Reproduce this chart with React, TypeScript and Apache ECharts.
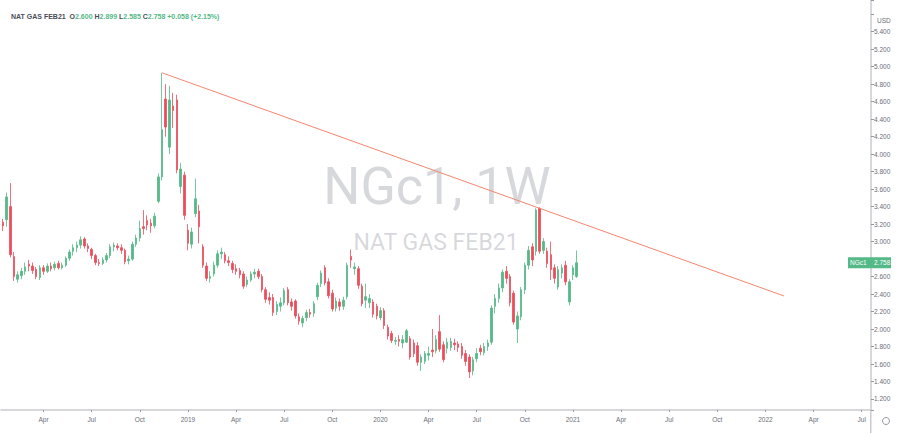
import React, { useEffect, useRef } from "react";
import * as echarts from "echarts";

// ---- categories: weekly bars (Monday dates) ----
const FIRST_WEEK = "2018-01-15";
const WEEK_COUNT = 235;
const weeks: string[] = [];
for (let i = 0; i < WEEK_COUNT; i++) {
  const d = new Date(Date.parse(FIRST_WEEK) + i * 7 * 86400000);
  weeks.push(d.toISOString().slice(0, 10));
}
const MONTHS = ["Jan", "Feb", "Mar", "Apr", "May", "Jun", "Jul", "Aug", "Sep", "Oct", "Nov", "Dec"];

// ---- weekly OHLC of NGc1 ----
const opens = [
  3.22, 3.25, 3.40, 2.83, 2.57, 2.61, 2.66, 2.74, 2.72, 2.68,
  2.59, 2.70, 2.66, 2.72, 2.70, 2.75, 2.70, 2.73, 2.81, 2.89,
  2.93, 2.96, 3.03, 2.95, 2.91, 2.84, 2.76, 2.75, 2.79, 2.84,
  2.94, 2.95, 2.93, 2.90, 2.78, 2.80, 2.97, 3.04, 3.17, 3.24,
  3.21, 3.18, 3.46, 3.74, 4.63, 4.08, 4.55, 4.62, 3.63, 3.76,
  3.13, 2.97, 3.32, 3.35, 2.94, 2.72, 2.58, 2.63, 2.73, 2.86,
  2.85, 2.78, 2.75, 2.69, 2.67, 2.63, 2.51, 2.56, 2.63, 2.66,
  2.60, 2.45, 2.36, 2.36, 2.20, 2.26, 2.30, 2.45, 2.31, 2.32,
  2.14, 2.07, 2.13, 2.19, 2.18, 2.37, 2.52, 2.70, 2.54, 2.41,
  2.24, 2.31, 2.26, 2.37, 2.83, 2.69, 2.69, 2.49, 2.33, 2.30,
  2.31, 2.26, 2.13, 2.21, 2.02, 1.95, 1.86, 1.88, 1.84, 1.85,
  1.89, 1.84, 1.81, 1.62, 1.63, 1.70, 1.76, 1.75, 1.97, 1.82,
  1.78, 1.79, 1.84, 1.83, 1.80, 1.72, 1.68, 1.52, 1.66, 1.78,
  1.73, 1.80, 1.85, 2.26, 2.35, 2.47, 2.66, 2.60, 2.41, 2.00,
  2.14, 2.45, 2.73, 2.94, 2.89, 3.38, 2.90, 2.89, 2.85, 2.70,
  2.48, 2.64, 2.73, 2.31, 2.62, 2.600,
];
const closes = [
  3.18, 3.51, 2.85, 2.60, 2.62, 2.66, 2.71, 2.72, 2.67, 2.60,
  2.70, 2.66, 2.72, 2.69, 2.74, 2.70, 2.73, 2.81, 2.88, 2.93,
  2.96, 3.02, 2.95, 2.92, 2.84, 2.76, 2.75, 2.79, 2.84, 2.94,
  2.96, 2.93, 2.90, 2.77, 2.80, 2.97, 3.04, 3.15, 3.15, 3.19,
  3.18, 3.29, 3.74, 4.28, 4.31, 4.62, 4.50, 3.82, 3.83, 3.30,
  2.98, 3.11, 3.49, 3.17, 2.73, 2.58, 2.60, 2.73, 2.86, 2.88,
  2.78, 2.76, 2.68, 2.66, 2.62, 2.49, 2.56, 2.63, 2.65, 2.60,
  2.45, 2.34, 2.33, 2.19, 2.28, 2.30, 2.44, 2.30, 2.26, 2.15,
  2.09, 2.12, 2.19, 2.17, 2.29, 2.50, 2.64, 2.53, 2.38, 2.23,
  2.32, 2.26, 2.33, 2.73, 2.79, 2.71, 2.50, 2.29, 2.37, 2.35,
  2.17, 2.15, 2.21, 2.04, 1.92, 1.87, 1.87, 1.86, 1.88, 1.98,
  1.68, 1.72, 1.62, 1.68, 1.72, 1.72, 1.74, 1.88, 1.77, 1.65,
  1.85, 1.86, 1.82, 1.79, 1.70, 1.63, 1.51, 1.65, 1.72, 1.74,
  1.80, 1.84, 2.24, 2.35, 2.47, 2.65, 2.58, 2.30, 2.08, 2.15,
  2.45, 2.73, 2.90, 2.79, 3.36, 2.89, 3.00, 2.75, 2.68, 2.58,
  2.68, 2.70, 2.54, 2.54, 2.70, 2.758,
];
const lows = [
  3.12, 3.17, 2.82, 2.55, 2.53, 2.57, 2.62, 2.66, 2.63, 2.57,
  2.56, 2.62, 2.64, 2.66, 2.67, 2.68, 2.68, 2.71, 2.78, 2.84,
  2.88, 2.92, 2.92, 2.88, 2.80, 2.73, 2.72, 2.73, 2.76, 2.81,
  2.89, 2.90, 2.86, 2.74, 2.74, 2.78, 2.94, 3.00, 3.08, 3.13,
  3.10, 3.15, 3.44, 3.70, 4.20, 4.00, 4.30, 3.78, 3.55, 3.25,
  2.90, 2.92, 3.28, 2.98, 2.70, 2.55, 2.53, 2.60, 2.70, 2.80,
  2.75, 2.72, 2.64, 2.62, 2.58, 2.46, 2.48, 2.54, 2.58, 2.57,
  2.42, 2.30, 2.28, 2.15, 2.16, 2.20, 2.27, 2.27, 2.21, 2.12,
  2.05, 2.02, 2.09, 2.13, 2.14, 2.33, 2.48, 2.50, 2.35, 2.20,
  2.20, 2.21, 2.22, 2.34, 2.70, 2.62, 2.46, 2.26, 2.24, 2.24,
  2.13, 2.11, 2.10, 2.00, 1.88, 1.84, 1.82, 1.80, 1.78, 1.84,
  1.65, 1.68, 1.58, 1.52, 1.60, 1.64, 1.68, 1.72, 1.74, 1.62,
  1.72, 1.75, 1.76, 1.74, 1.66, 1.58, 1.44, 1.47, 1.62, 1.70,
  1.70, 1.75, 1.82, 2.18, 2.30, 2.42, 2.52, 2.26, 2.05, 1.84,
  2.10, 2.40, 2.68, 2.72, 2.84, 2.86, 2.86, 2.70, 2.56, 2.52,
  2.45, 2.58, 2.50, 2.27, 2.56, 2.585,
];
const highs = [
  3.26, 3.56, 3.67, 2.88, 2.66, 2.70, 2.76, 2.79, 2.76, 2.71,
  2.73, 2.73, 2.75, 2.76, 2.77, 2.78, 2.76, 2.83, 2.91, 2.97,
  3.00, 3.06, 3.05, 2.98, 2.93, 2.86, 2.80, 2.82, 2.87, 2.97,
  2.99, 2.98, 2.97, 2.92, 2.84, 3.00, 3.08, 3.24, 3.36, 3.30,
  3.26, 3.33, 3.78, 4.93, 4.80, 4.78, 4.70, 4.68, 3.90, 3.80,
  3.20, 3.16, 3.72, 3.42, 2.97, 2.76, 2.66, 2.77, 2.90, 2.93,
  2.88, 2.83, 2.78, 2.74, 2.70, 2.66, 2.60, 2.66, 2.69, 2.69,
  2.63, 2.48, 2.42, 2.40, 2.32, 2.36, 2.47, 2.48, 2.35, 2.34,
  2.18, 2.15, 2.22, 2.23, 2.32, 2.53, 2.67, 2.73, 2.58, 2.45,
  2.36, 2.35, 2.37, 2.76, 2.91, 2.76, 2.72, 2.52, 2.52, 2.40,
  2.34, 2.29, 2.25, 2.24, 2.05, 1.98, 1.91, 1.93, 1.93, 2.00,
  1.92, 1.88, 1.85, 1.71, 1.75, 1.80, 2.00, 1.93, 2.16, 1.86,
  1.90, 1.90, 1.89, 1.86, 1.84, 1.76, 1.71, 1.68, 1.78, 1.82,
  1.84, 1.88, 2.27, 2.40, 2.52, 2.68, 2.72, 2.63, 2.44, 2.20,
  2.48, 2.76, 2.95, 2.98, 3.38, 3.39, 3.04, 2.93, 3.00, 2.74,
  2.72, 2.74, 2.78, 2.57, 2.73, 2.899,
];

// ---- trend line drawn on the chart ----
const trendWeeks = ["2018-11-12", "2022-01-31"];
const trendValues = [4.93, 2.378];

const SYMBOL = "NGc1";
const INTERVAL = "1W";
const NAME = "NAT GAS FEB21";
const CURRENCY = "USD";

const UP = "#53b987";
const DOWN = "#eb4d5c";
const FONT = "'Liberation Sans', Arial, sans-serif";

function quarterLabel(cat: string): string {
  const m = Date.parse(cat);
  for (let k = -1; k <= 5; k++) {
    const d = new Date(m + k * 86400000);
    if (d.getUTCDate() === 1 && d.getUTCMonth() % 3 === 0) {
      return d.getUTCMonth() === 0 ? String(d.getUTCFullYear()) : MONTHS[d.getUTCMonth()];
    }
  }
  return "";
}

export default function App() {
  const ref = useRef<HTMLDivElement>(null);
  useEffect(() => {
    const el = ref.current!;
    const chart = echarts.init(el, undefined, { renderer: "svg" });
    const candleData = opens.map((o, i) => [o, closes[i], lows[i], highs[i]]);
    const last = opens.length - 1;
    const lastClose = closes[last];
    const chg = closes[last] - closes[last - 1];
    const pct = (chg / closes[last - 1]) * 100;
    const sign = chg >= 0 ? "+" : "-";

    chart.setOption({
      animation: false,
      backgroundColor: "#ffffff",
      title: {
        left: 6,
        top: 8,
        text:
          `{n|${NAME}}  {k|O}{v|${opens[last].toFixed(3)}} {k|H}{v|${highs[last].toFixed(3)}} ` +
          `{k|L}{v|${lows[last].toFixed(3)}} {k|C}{v|${closes[last].toFixed(3)}} ` +
          `{v|${sign}${Math.abs(chg).toFixed(3)} (${sign}${Math.abs(pct).toFixed(2)}%)}`,
        textStyle: {
          fontSize: 7,
          fontFamily: FONT,
          rich: {
            n: { fontSize: 7, color: "#4a4d57", fontFamily: FONT },
            k: { fontSize: 7, color: "#4a4d57", fontFamily: FONT },
            v: { fontSize: 7, color: UP, fontFamily: FONT },
          },
        },
      },
      grid: { left: 1, right: 31, top: 0, bottom: 23, containLabel: false },
      xAxis: {
        type: "category",
        data: weeks,
        boundaryGap: true,
        axisLine: { show: true, lineStyle: { color: "#c9cbd1", width: 1.5 } },
        axisTick: {
          show: true,
          alignWithLabel: true,
          length: 2,
          interval: (idx: number, v: string) => quarterLabel(v) !== "",
          lineStyle: { color: "#9598a1" },
        },
        axisLabel: {
          interval: (idx: number, v: string) => quarterLabel(v) !== "",
          formatter: (v: string) => quarterLabel(v),
          fontSize: 6.5,
          color: "#6a6d78",
          fontFamily: FONT,
          margin: 6,
        },
        splitLine: { show: false },
      },
      yAxis: {
        type: "value",
        position: "right",
        min: 1.0742,
        max: 5.7626,
        splitNumber: 23,
        minInterval: 0.2,
        maxInterval: 0.2,
        scale: true,
        axisLine: { show: true, lineStyle: { color: "#c9cbd1", width: 1.5 } },
        axisTick: { show: true, length: 3, lineStyle: { color: "#9598a1" } },
        axisLabel: {
          fontSize: 6.5,
          color: "#6a6d78",
          fontFamily: FONT,
          margin: 3,
          // labels under the last-price box are covered in the reference
          formatter: (v: number) =>
            v > 5.5 || v < 1.15 || Math.abs(v - lastClose) < 0.1 ? "" : v.toFixed(3),
        },
        splitLine: { show: false },
      },
      series: [
        {
          type: "candlestick",
          data: candleData,
          barWidth: 2,
          itemStyle: {
            color: UP,
            color0: DOWN,
            borderColor: UP,
            borderColor0: DOWN,
            borderWidth: 0.8,
          },
          z: 3,
        },
        {
          type: "line",
          data: trendWeeks.map((w, i) => [w, trendValues[i]]),
          showSymbol: false,
          symbol: "none",
          silent: true,
          lineStyle: { color: "#f5866f", width: 1 },
          z: 4,
        },
      ],
    });

    const yLast = chart.convertToPixel({ yAxisIndex: 0 }, lastClose) as number;
    chart.setOption({
      graphic: [
        {
          type: "text",
          x: 437,
          y: 186,
          z: -10,
          silent: true,
          style: {
            text: `${SYMBOL}, ${INTERVAL}`,
            fill: "rgba(149,152,161,0.38)",
            font: "52px Roboto, sans-serif",
            textAlign: "center",
            textVerticalAlign: "middle",
          },
        },
        {
          type: "text",
          x: 436,
          y: 242,
          z: -10,
          silent: true,
          style: {
            text: NAME,
            fill: "rgba(149,152,161,0.38)",
            font: "23px Roboto, sans-serif",
            textAlign: "center",
            textVerticalAlign: "middle",
          },
        },
        {
          type: "text",
          x: 877,
          y: 20,
          style: {
            text: CURRENCY,
            fill: "#6a6d78",
            font: `6.5px ${FONT}`,
            textVerticalAlign: "middle",
          },
        },
        {
          type: "line",
          shape: { x1: 870.75, y1: 410, x2: 870.75, y2: 433 },
          style: { stroke: "#c9cbd1", lineWidth: 1.5 },
        },
        {
          type: "circle",
          shape: { cx: 886, cy: 421, r: 3.5 },
          style: { fill: "none", stroke: "#8a8d96", lineWidth: 0.9 },
        },
        {
          type: "rect",
          shape: { x: 848, y: yLast - 5.5, width: 43, height: 11 },
          style: { fill: UP },
          z: 20,
        },
        {
          type: "text",
          x: 850,
          y: yLast,
          z: 21,
          style: { text: SYMBOL, fill: "#ffffff", font: `6.5px ${FONT}`, textVerticalAlign: "middle" },
        },
        {
          type: "text",
          x: 874,
          y: yLast,
          z: 21,
          style: {
            text: lastClose.toFixed(3),
            fill: "#ffffff",
            font: `6.5px ${FONT}`,
            textVerticalAlign: "middle",
          },
        },
      ],
    });

    return () => chart.dispose();
  }, []);
  return (
    <div
      ref={ref}
      style={{ position: "fixed", left: 0, top: 0, width: 902, height: 433, background: "#fff" }}
    />
  );
}
